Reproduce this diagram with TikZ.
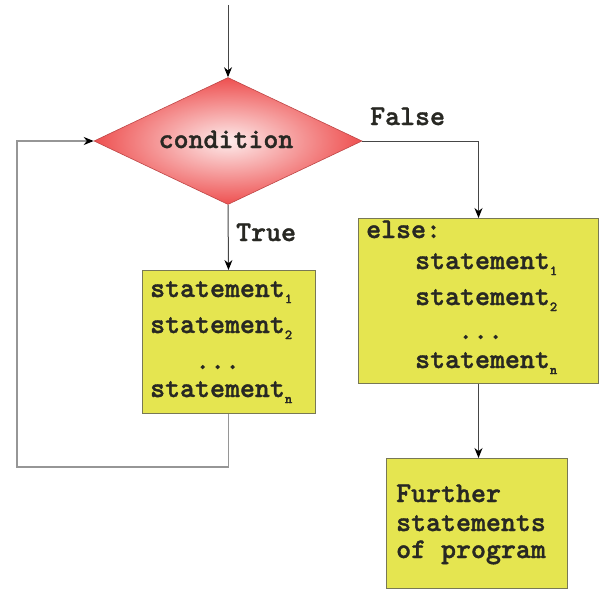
\documentclass[tikz,border=0pt]{standalone}
\usepackage{fontspec}
\newfontfamily\courf[FakeBold=1.3]{lmmonolt10-bold.otf}
\usetikzlibrary{shapes.geometric,arrows.meta}
\definecolor{boxfill}{RGB}{229,229,80}
\definecolor{boxborder}{RGB}{120,120,85}
\definecolor{textc}{RGB}{40,40,35}
\definecolor{linec}{RGB}{70,70,70}
\definecolor{loopc}{RGB}{150,150,150}
\definecolor{dborder}{RGB}{190,70,70}
\newcommand{\sbs}[1]{\raisebox{-0.5ex}{\fontsize{14}{14}\selectfont #1}}
\begin{document}
\begin{tikzpicture}[x=1pt,y=-1pt,
  txt/.style={font=\courf\fontsize{28.5}{28.5}\selectfont, text=textc, inner sep=0, anchor=base west},
  box/.style={draw=boxborder, fill=boxfill, line width=1pt, inner sep=0, anchor=north west},
  arr/.style={draw=linec, line width=1pt, -{Stealth[length=10pt,width=8pt,color=black]}},
  loopline/.style={draw=loopc, line width=1.6pt, -{Stealth[length=10pt,width=8pt,color=black]}}]
\useasboundingbox (0,0) rectangle (602,591);
\fill[white] (0,0) rectangle (602,591);
% decision
\node[diamond, minimum width=268pt, minimum height=127pt, inner sep=0, draw=dborder, line width=0.6pt,
      inner color={rgb,255:red,253;green,236;blue,236}, outer color={rgb,255:red,238;green,80;blue,80}] (cond) at (228,141) {};
\node[txt, anchor=base] (condt) at (226,148) {condition};
% boxes
\node[box, minimum width=173pt, minimum height=143pt] (lb) at (141.5,270) {};
\node[box, minimum width=240pt, minimum height=165pt] (rb) at (358,218) {};
\node[box, minimum width=181pt, minimum height=130pt] (fb) at (386,458) {};
% left box text
\node[txt] (l1) at (150,297) {statement\sbs{1}};
\node[txt] (l2) at (150,333) {statement\sbs{2}};
\node[txt] (l3) at (195,369) {...};
\node[txt] (l4) at (150,397) {statement\sbs{n}};
% right box text
\node[txt] (r0) at (366,238) {else:};
\node[txt] (r1) at (415,269) {statement\sbs{1}};
\node[txt] (r2) at (415,305) {statement\sbs{2}};
\node[txt] (r3) at (458,339) {...};
\node[txt] (r4) at (415,368) {statement\sbs{n}};
% further box text
\node[txt] (f1) at (396,502) {Further};
\node[txt] (f2) at (396,531) {statements};
\node[txt] (f3) at (396,558) {of program};
% labels
\node[txt] (truel) at (236,241) {True};
\node[txt] (falsel) at (370,125) {False};
% connectors
\coordinate (start) at (228,5);
\coordinate (c1) at (17,467);
\draw[arr] (start) -- (cond.north);
\draw[arr] (cond.south) -- (lb.north);
\draw[arr] (cond.east) -| (rb.north);
\draw[arr] (rb.south) -- (rb.south |- fb.north);
\draw[loopline] (lb.south) |- (c1) |- (cond.west);
\end{tikzpicture}
\end{document}
